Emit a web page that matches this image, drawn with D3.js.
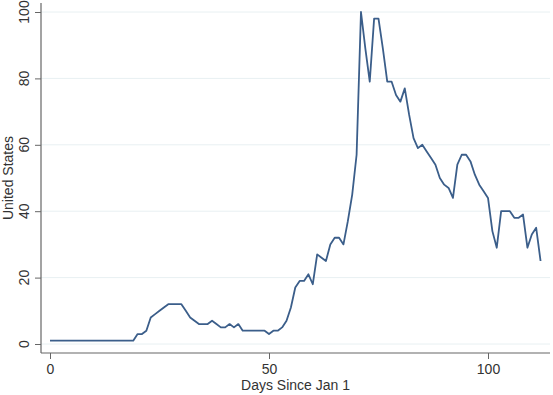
<!DOCTYPE html>
<html>
<head>
<meta charset="utf-8">
<script src="https://cdn.jsdelivr.net/npm/d3@7"></script>
<style>
  body { margin: 0; background: #fff; }
  text { font-family: "Liberation Sans", Arial, sans-serif; fill: #333; }
</style>
</head>
<body>
<div id="chart"></div>
<script>
// daily values, day 0 .. day 112
const days = d3.range(0, 113);
const cases = [
  1, 1, 1, 1, 1, 1, 1, 1, 1, 1,      // 0-9
  1, 1, 1, 1, 1, 1, 1, 1, 1, 1,      // 10-19
  3, 3, 4, 8, 9, 10, 11, 12, 12, 12, // 20-29
  12, 10, 8, 7, 6, 6, 6, 7, 6, 5,    // 30-39
  5, 6, 5, 6, 4, 4, 4, 4, 4, 4,      // 40-49
  3, 4, 4, 5, 7, 11, 17, 19, 19, 21, // 50-59
  18, 27, 26, 25, 30, 32, 32, 30, 37, 45, // 60-69
  57, 100, 89, 79, 98, 98, 89, 79, 79, 75, // 70-79
  73, 77, 69, 62, 59, 60, 58, 56, 54, 50, // 80-89
  48, 47, 44, 54, 57, 57, 55, 51, 48, 46, // 90-99
  44, 34, 29, 40, 40, 40, 38, 38, 39, 29, // 100-109
  33, 35, 25                          // 110-112
];
const xTicks = [0, 50, 100];
const yTicks = [0, 20, 40, 60, 80, 100];

const width = 553, height = 395;
const axisLeftX = 41, axisBottomY = 353, plotRight = 550, plotTop = 3;

const svg = d3.select("#chart")
  .append("svg")
  .attr("width", width)
  .attr("height", height);

const x = d3.scaleLinear().domain([0, 100]).range([50, 488]);
const y = d3.scaleLinear().domain([0, 100]).range([344, 12]);

// grid lines
svg.append("g")
  .selectAll("line")
  .data(yTicks)
  .join("line")
  .attr("x1", axisLeftX)
  .attr("x2", plotRight)
  .attr("y1", d => y(d))
  .attr("y2", d => y(d))
  .attr("stroke", "#e8f0f2")
  .attr("stroke-width", 1);

// y axis
const yAxis = svg.append("g")
  .attr("transform", `translate(${axisLeftX},0)`)
  .call(d3.axisLeft(y).tickValues(yTicks).tickSize(6).tickSizeOuter(0));
yAxis.select(".domain").remove();
yAxis.selectAll(".tick line").attr("stroke", "#666");
yAxis.selectAll(".tick text").remove();
yAxis.append("line")
  .attr("y1", plotTop).attr("y2", axisBottomY)
  .attr("stroke", "#666").attr("stroke-width", 1.2);

svg.append("g")
  .selectAll("text")
  .data(yTicks)
  .join("text")
  .attr("transform", d => `translate(29,${y(d)}) rotate(-90)`)
  .attr("text-anchor", "middle")
  .style("font-size", "14px")
  .text(d => d);

// x axis
const xAxis = svg.append("g")
  .attr("transform", `translate(0,${axisBottomY})`)
  .call(d3.axisBottom(x).tickValues(xTicks).tickSize(6).tickSizeOuter(0));
xAxis.select(".domain").remove();
xAxis.selectAll(".tick line").attr("stroke", "#666");
xAxis.selectAll(".tick text")
  .attr("y", 11)
  .attr("fill", "#333")
  .style("font-size", "14px")
  .style("font-family", "'Liberation Sans', Arial, sans-serif");
xAxis.append("line")
  .attr("x1", axisLeftX).attr("x2", plotRight)
  .attr("stroke", "#666").attr("stroke-width", 1.2);

// axis titles
svg.append("text")
  .attr("x", (axisLeftX + plotRight) / 2)
  .attr("y", 390)
  .attr("text-anchor", "middle")
  .style("font-size", "14px")
  .text("Days Since Jan 1");

svg.append("text")
  .attr("transform", `translate(13,${(plotTop + axisBottomY) / 2}) rotate(-90)`)
  .attr("text-anchor", "middle")
  .style("font-size", "14px")
  .text("United States");

// the line
const line = d3.line()
  .x((d, i) => x(days[i]))
  .y(d => y(d));

svg.append("path")
  .datum(cases)
  .attr("d", line)
  .attr("fill", "none")
  .attr("stroke", "#3b5e8a")
  .attr("stroke-width", 1.8)
  .attr("stroke-linejoin", "round");
</script>
</body>
</html>
